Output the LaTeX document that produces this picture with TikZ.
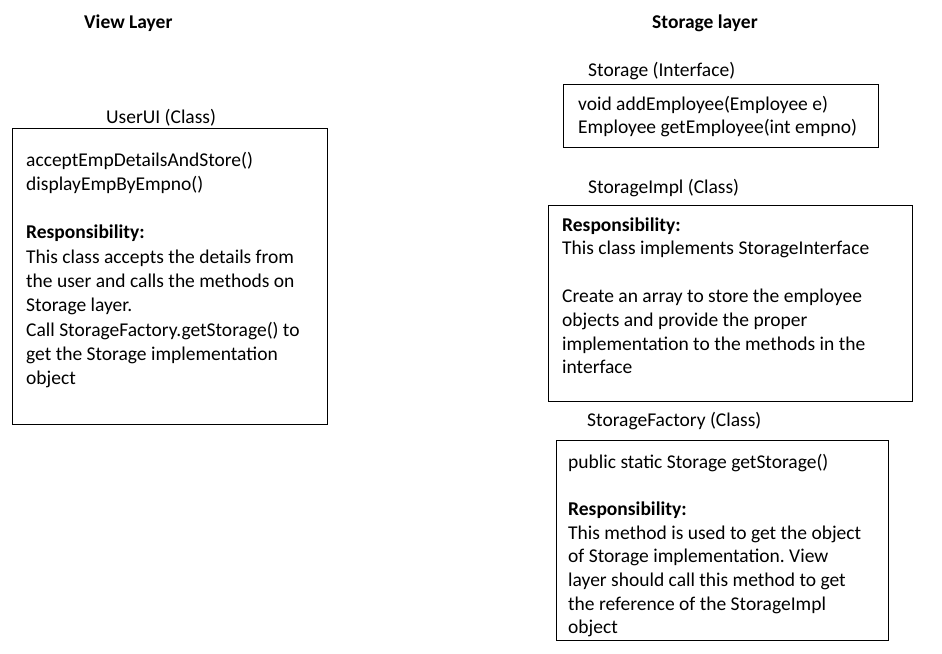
\documentclass[tikz,border=0pt]{standalone}
\usepackage{fontspec}
\setmainfont{Carlito}
\usepackage{tikz}
\usetikzlibrary{positioning}
\frenchspacing
\newcommand{\txtsize}{\fontsize{19.5}{24.3}\selectfont}
\tikzstyle{layertitle} = [font=\txtsize\bfseries, anchor=base west, inner sep=0pt]
\tikzstyle{classtitle} = [font=\txtsize, anchor=base west, inner sep=0pt]
\tikzstyle{classbox} = [draw, line width=1.2pt, rectangle, anchor=north west, inner sep=0pt]
\tikzstyle{boxtext} = [font=\txtsize, anchor=base west, inner sep=0pt]

\begin{document}
\begin{tikzpicture}[x=1pt, y=-1pt]
	\useasboundingbox (0,0) rectangle (942,653);
	% layer titles
	\node[layertitle] (view) at (84,28) {View Layer};
	\node[layertitle] (store) at (652,28) {Storage layer};

	% view layer
	\node[classtitle] (useruititle) at (106,123) {UserUI (Class)};
	\node[classbox, minimum width=315pt, minimum height=296pt] (userui) at (12,128) {};
	\node[boxtext] (useruitext) at ([xshift=14pt, yshift=-38pt]userui.north west) {%
		\begin{tabular}[t]{@{}l@{}}
			acceptEmpDetailsAndStore() \\
			displayEmpByEmpno() \\
			\\
			\textbf{Responsibility:} \\
			This class accepts the details from \\
			the user and calls the methods on \\
			Storage layer. \\
			Call StorageFactory.getStorage() to \\
			get the Storage implementation \\
			object
		\end{tabular}};

	% storage layer
	\node[classtitle] (storagetitle) at (588,76) {Storage (Interface)};
	\node[classbox, minimum width=315pt, minimum height=63pt] (storage) at (563,84) {};
	\node[boxtext] (storagetext) at ([xshift=15pt, yshift=-26pt]storage.north west) {%
		\renewcommand{\arraystretch}{0.97}%
		\begin{tabular}[t]{@{}l@{}}
			void addEmployee(Employee e) \\
			Employee getEmployee(int empno)
		\end{tabular}};

	\node[classtitle] (impltitle) at (588,193) {StorageImpl (Class)};
	\node[classbox, minimum width=364pt, minimum height=196pt] (impl) at (548,205) {};
	\node[boxtext] (impltext) at ([xshift=14pt, yshift=-26pt]impl.north west) {%
		\renewcommand{\arraystretch}{0.98}%
		\begin{tabular}[t]{@{}l@{}}
			\textbf{Responsibility:} \\
			This class implements StorageInterface \\
			\\
			Create an array to store the employee \\
			objects and provide the proper \\
			implementation to the methods in the \\
			interface
		\end{tabular}};

	\node[classtitle] (factorytitle) at (587,426) {StorageFactory (Class)};
	\node[classbox, minimum width=332pt, minimum height=200pt] (factory) at (556,440) {};
	\node[boxtext] (factorytext) at ([xshift=12pt, yshift=-28pt]factory.north west) {%
		\renewcommand{\arraystretch}{0.975}%
		\begin{tabular}[t]{@{}l@{}}
			public static Storage getStorage() \\
			\\
			\textbf{Responsibility:} \\
			This method is used to get the object \\
			of Storage implementation. View \\
			layer should call this method to get \\
			the reference of the StorageImpl \\
			object
		\end{tabular}};
\end{tikzpicture}
\end{document}
